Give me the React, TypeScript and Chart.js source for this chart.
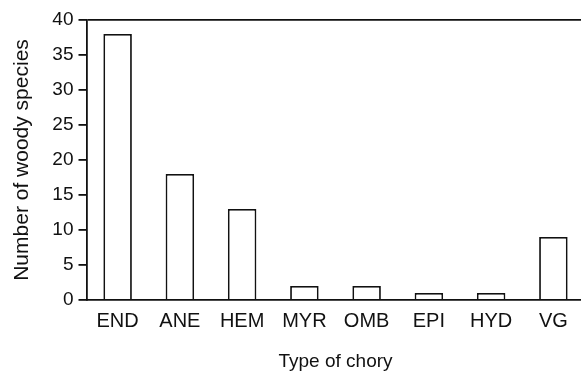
import React, { useEffect, useRef } from "react";
import { Chart, registerables } from "chart.js";

Chart.register(...registerables);

const categories = ["END", "ANE", "HEM", "MYR", "OMB", "EPI", "HYD", "VG"];
const speciesCounts = [38, 18, 13, 2, 2, 1, 1, 9];
const yMin = 0;
const yMax = 40;
const yStep = 5;

export default function App() {
  const ref = useRef<HTMLCanvasElement | null>(null);

  useEffect(() => {
    if (!ref.current) return;
    const chart = new Chart(ref.current, {
      type: "bar",
      data: {
        labels: categories,
        datasets: [
          {
            data: speciesCounts,
            backgroundColor: "#ffffff",
            borderColor: "#111111",
            borderWidth: 1.8,
            borderSkipped: "bottom",
            categoryPercentage: 1,
            barPercentage: 0.458,
          },
        ],
      },
      options: {
        responsive: false,
        animation: false,
        devicePixelRatio: 1,
        layout: { padding: { top: 20, right: 1.5, left: 0, bottom: 0 } },
        plugins: { legend: { display: false }, tooltip: { enabled: false } },
        scales: {
          x: {
            offset: true,
            grid: { display: true, color: "rgba(0,0,0,0)", drawTicks: false },
            border: { display: true, color: "#111111", width: 1.8 },
            ticks: {
              color: "#111111",
              padding: 9,
              font: { family: "'Liberation Sans', Arial, sans-serif", size: 20 },
            },
            title: {
              display: true,
              text: "Type of chory",
              color: "#111111",
              font: { family: "'Liberation Sans', Arial, sans-serif", size: 19, lineHeight: 1 },
              padding: { top: 0, bottom: 1 },
            },
            afterFit: (scale: any) => {
              scale.height = 72;
            },
          },
          y: {
            min: yMin,
            max: yMax,
            grid: {
              display: true,
              color: (ctx: any) => (ctx.tick && ctx.tick.value === yMax ? "#111111" : "rgba(0,0,0,0)"),
              lineWidth: 1.8,
              tickColor: "#111111",
              tickLength: 8,
              drawTicks: true,
            },
            border: { display: true, color: "#111111", width: 1.8 },
            ticks: {
              stepSize: yStep,
              color: "#111111",
              padding: 5,
              font: { family: "'Liberation Sans', Arial, sans-serif", size: 19 },
            },
            title: {
              display: true,
              text: "Number of woody species",
              color: "#111111",
              font: { family: "'Liberation Sans', Arial, sans-serif", size: 21, lineHeight: 1.2 },
              padding: { top: 10, bottom: 0 },
            },
            afterFit: (scale: any) => {
              scale.width = 86.5;
            },
          },
        },
      },
    });
    return () => chart.destroy();
  }, []);

  return (
    <div
      style={{
        position: "absolute",
        left: 0,
        top: 0,
        width: 581,
        height: 372,
        overflow: "hidden",
        background: "#ffffff",
      }}
    >
      <canvas ref={ref} width={586} height={372} style={{ display: "block", width: 586, height: 372 }} />
    </div>
  );
}
